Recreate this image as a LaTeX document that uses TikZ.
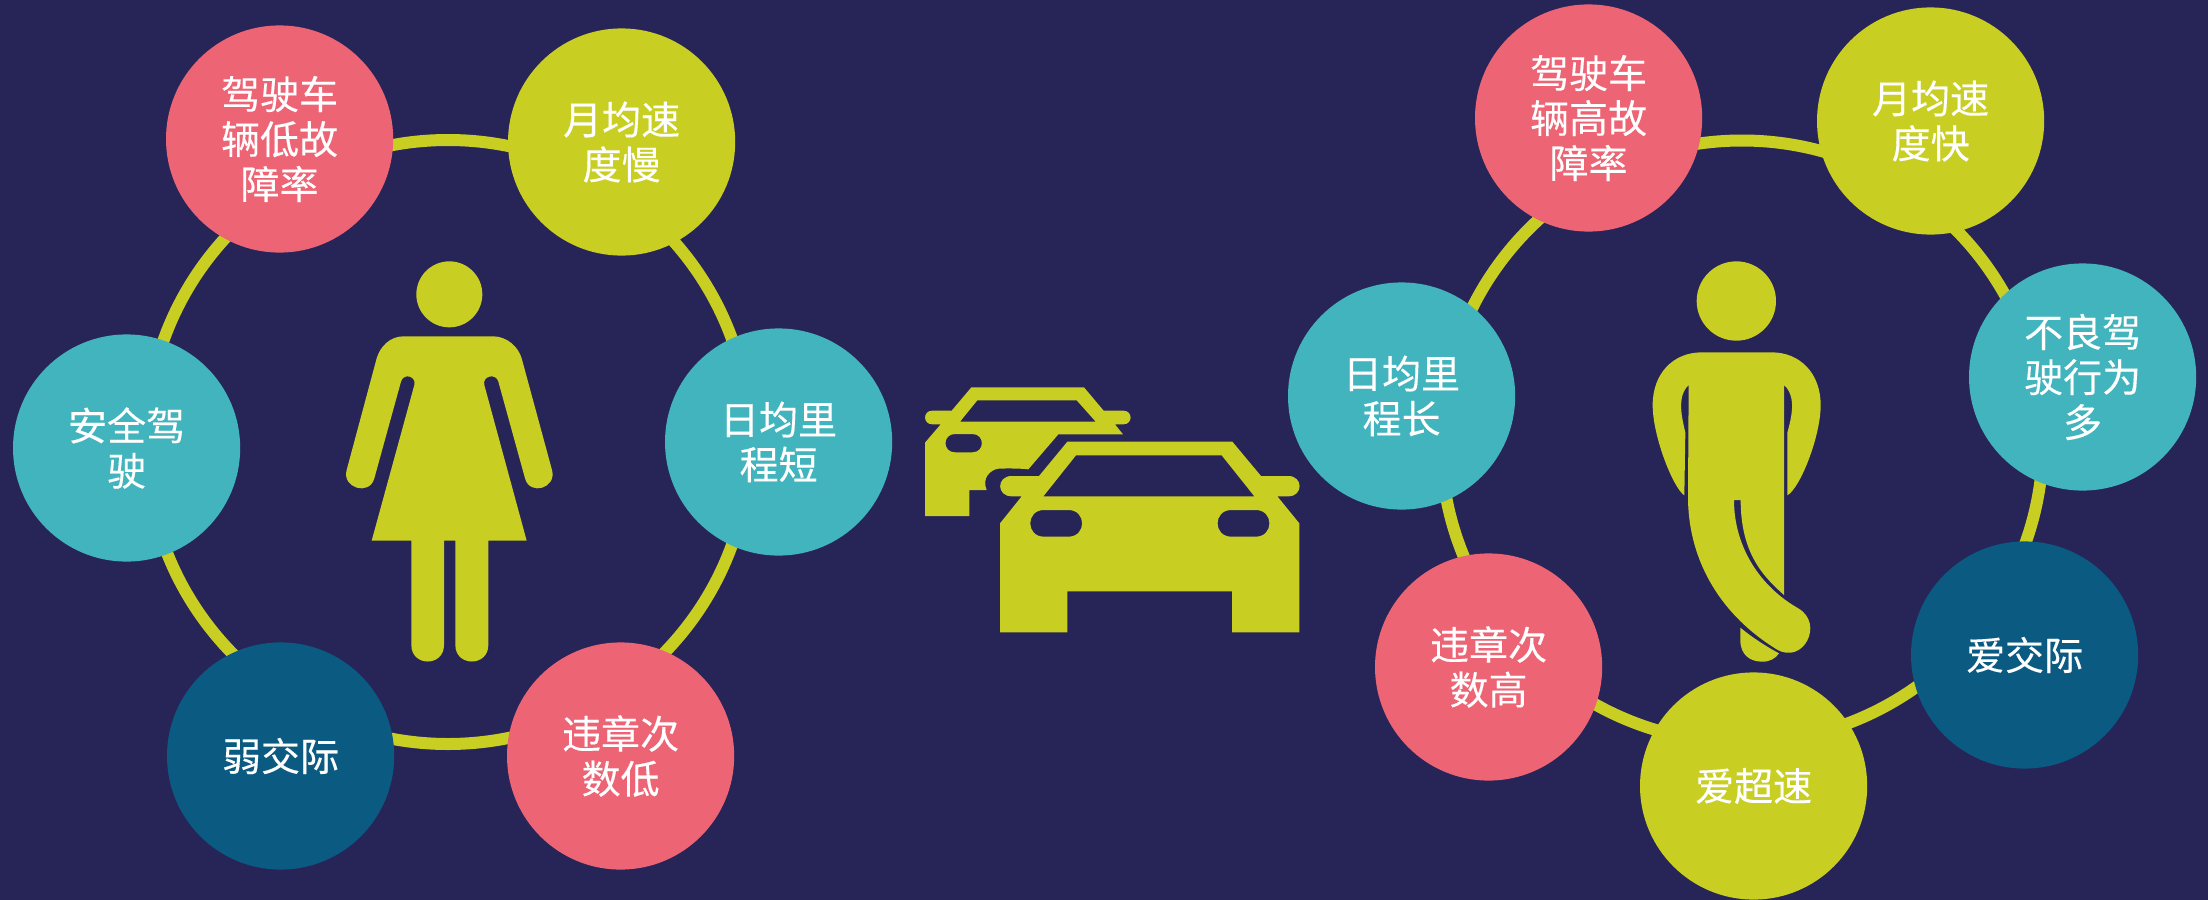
\documentclass[tikz,border=0pt]{standalone}
\usepackage{fontspec}
\setmainfont{Noto Sans CJK SC}
\definecolor{bgc}{HTML}{272457}
\definecolor{lime}{HTML}{C8CE22}
\definecolor{tealc}{HTML}{42B4BD}
\definecolor{pinkc}{HTML}{ED6575}
\definecolor{navyc}{HTML}{0B5A82}
\tikzset{
  bubble/.style={circle,draw=none,minimum size=113.6pt,inner sep=0pt,align=center,text=white,
    xshift=0.3pt,
    font=\fontsize{19.5}{22.5}\selectfont\addfontfeature{FakeBold=0.25}},
  lb/.style={bubble,fill=lime},
  tb/.style={bubble,fill=tealc},
  pb/.style={bubble,fill=pinkc},
  nb/.style={bubble,fill=navyc},
  ring/.style={circle,draw=lime,line width=6pt,inner sep=0pt},
  icon/.style={fill=lime,draw=none,even odd rule},
  zoomgrid/.style={x=0.16667pt,y=-0.16667pt}
}
\begin{document}
\begin{tikzpicture}[x=0.5pt,y=-0.5pt]
\useasboundingbox[fill=bgc] (0,0) rectangle (2208,900);
\node[ring,minimum size=302pt] (ringL) at (448,442) {};
\node[ring,minimum size=301pt] (ringR) at (1742,441.5) {};
% left bubbles
\node[pb] (l1) at (279,139) {驾驶车\\辆低故\\障率};
\node[lb] (l2) at (621,142) {月均速\\度慢};
\node[tb] (l3) at (778,442) {日均里\\程短};
\node[pb] (l4) at (620,756) {违章次\\数低};
\node[nb] (l5) at (280,756) {弱交际};
\node[tb] (l6) at (126,448) {安全驾\\驶};
% right bubbles
\node[pb] (r1) at (1588,118) {驾驶车\\辆高故\\障率};
\node[lb] (r2) at (1930,121) {月均速\\度快};
\node[tb] (r3) at (2082,377) {不良驾\\驶行为\\多};
\node[nb] (r4) at (2024,655) {爱交际};
\node[lb] (r5) at (1753,786) {爱超速};
\node[pb] (r6) at (1488,667) {违章次\\数高};
\node[tb] (r7) at (1401,396) {日均里\\程长};
% woman
\begin{scope}[xshift=160pt,yshift=-120pt,zoomgrid]
\fill[icon] (388,163) circle[radius=99];
\fill[icon] (250,289) -- (520,289) .. controls (560,289) and (595,320) .. (605,355)
 -- (696,690) .. controls (711,744) and (630,769) .. (615,715)
 -- (535,425) .. controls (528,398) and (486,408) .. (493,435)
 -- (620,902) -- (505,902) -- (505,1215) .. controls (505,1281) and (406,1281) .. (406,1215)
 -- (406,902) -- (372,902) -- (372,1215) .. controls (372,1281) and (274,1281) .. (274,1215)
 -- (274,902) -- (155,902) -- (283,435) .. controls (290,408) and (250,398) .. (243,425)
 -- (163,715) .. controls (148,769) and (65,744) .. (80,690)
 -- (170,355) .. controls (180,320) and (210,289) .. (250,289) -- cycle;
\end{scope}
% cars
\begin{scope}[xshift=450pt,yshift=-180pt,zoomgrid]
\fill[icon] (75,248) -- (122,193) -- (97,193) .. controls (68,193) and (68,152) .. (97,152)
 -- (155,152) -- (214,82) -- (552,82) -- (611,152) -- (670,152)
 .. controls (699,152) and (699,193) .. (670,193) -- (645,193) -- (669,223) -- (475,223)
 -- (385,328) .. controls (360,325) and (320,325) .. (295,326)
 .. controls (270,330) and (245,355) .. (260,390) -- (208,390) -- (208,468) -- (75,468) -- cycle
 (180,185) -- (232,121) -- (530,121) -- (587,185) -- cycle
 (165,222) -- (217,222) .. controls (255,222) and (255,277) .. (217,277) -- (165,277)
 .. controls (127,277) and (127,222) .. (165,222) -- cycle;
\fill[icon] (300,490) -- (365,409) -- (335,409) .. controls (289,409) and (289,348) .. (335,348)
 -- (417,348) -- (502,245) -- (997,245) -- (1083,348) -- (1165,348)
 .. controls (1210,348) and (1210,409) .. (1165,409) -- (1132,409) -- (1198,490)
 -- (1198,817) -- (996,817) -- (996,694) -- (502,694) -- (502,817) -- (300,817) -- cycle
 (430,409) -- (528,286) -- (965,286) -- (1063,409) -- cycle
 (432,450) -- (505,450) .. controls (560,450) and (560,530) .. (505,530) -- (432,530)
 .. controls (377,530) and (377,450) .. (432,450) -- cycle
 (994,450) -- (1067,450) .. controls (1122,450) and (1122,530) .. (1067,530) -- (994,530)
 .. controls (939,530) and (939,450) .. (994,450) -- cycle;
\end{scope}
% man
\begin{scope}[xshift=815pt,yshift=-120pt,zoomgrid]
\fill[icon] (319,183) circle[radius=119];
\fill[icon] (215,337) -- (425,337) .. controls (510,337) and (572,400) .. (572,495)
 .. controls (572,590) and (510,745) .. (472,766) -- (472,578)
 .. controls (485,530) and (500,470) .. (462,435) -- (462,1065)
 .. controls (400,1010) and (332,940) .. (332,780) -- (312,780)
 .. controls (312,920) and (390,1040) .. (505,1105)
 .. controls (584,1152) and (519,1275) .. (440,1228)
 .. controls (280,1130) and (174,970) .. (174,770) -- (176,435)
 .. controls (140,470) and (155,530) .. (166,578) -- (163,766)
 .. controls (130,745) and (68,590) .. (68,495)
 .. controls (68,400) and (130,337) .. (215,337) -- cycle;
\fill[icon] (331,1163) .. controls (370,1195) and (410,1220) .. (447,1240)
 .. controls (437,1255) and (420,1265) .. (397,1265)
 .. controls (360,1265) and (331,1245) .. (331,1200) -- cycle;
\end{scope}
\end{tikzpicture}
\end{document}
